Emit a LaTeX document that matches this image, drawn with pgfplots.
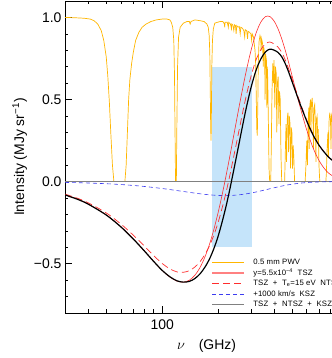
\documentclass[border=0pt]{standalone}
\usepackage{fontspec}
\setmainfont{Liberation Sans}
\newfontfamily\legfont{Liberation Sans}[LetterSpace=2]
\usepackage{pgfplots}
\pgfplotsset{compat=1.18}

\definecolor{pwv}{RGB}{255,182,0}
\definecolor{tszred}{RGB}{255,45,45}
\definecolor{kszblue}{RGB}{60,60,240}
\definecolor{band}{RGB}{197,228,250}

\begin{document}
\begin{tikzpicture}
\begin{axis}[
  name=ax, at={(0,0)}, anchor=south west,
  scale only axis, width=283bp, height=312bp,
  xmode=log, xmin=30, xmax=1000, ymin=-0.8, ymax=1.1,
  xtick={100,1000}, xticklabels={100,{}},
  minor xtick={40,50,60,70,80,90,200,300,400,500,600,700,800,900},
  ytick={-0.5,0,0.5,1}, yticklabels={−0.5,0.0,0.5,1.0},
  minor ytick={-0.7,-0.6,-0.4,-0.3,-0.2,-0.1,0.1,0.2,0.3,0.4,0.6,0.7,0.8,0.9},
  tick align=inside,
  major tick length=7bp, minor tick length=3.5bp,
  tick style={black, line width=0.6pt},
  axis line style={line width=0.8pt},
  ticklabel style={font=\fontsize{14}{14}\selectfont},
  xticklabel style={yshift=-3bp},
  label style={font=\fontsize{14}{14}\selectfont},
  xlabel style={yshift=-3bp},
  xlabel={$\nu$\quad (GHz)},
  ylabel={Intensity (MJy sr\textsuperscript{−1})},
  legend style={at={(0.516,0.176)}, anchor=north west, draw=none, fill=none,
    inner sep=0pt, font=\legfont\fontsize{7.8}{9}\selectfont, row sep=2bp,
    nodes={inner sep=0.5bp, text height=6bp, text depth=1.5bp}},
  legend cell align=left,
  legend image code/.code={\draw[#1] (0bp,0bp) -- (32bp,0bp); \path (40bp,0bp);},
]
% observing band
\addplot[fill=band, draw=none, forget plot] coordinates {(185,-0.4) (185,0.7) (305,0.7) (305,-0.4)} -- cycle;

% atmospheric transmission, 0.5 mm PWV
\addplot[pwv, line width=0.7pt, forget plot] coordinates {
(30,1.0) (34,0.998) (38,0.995) (41,0.99) (43,0.98) (45,0.96) (47,0.92) (48.5,0.86)
(50,0.76) (51,0.64) (52,0.48) (53,0.28) (54,0.10) (55,0.0) (63,0.0) (64,0.1)
(65,0.3) (66,0.5) (67,0.62) (68.5,0.72) (70,0.79) (72,0.86) (75,0.91) (78,0.94)
(82,0.96) (87,0.975) (93,0.985) (100,0.99) (106,0.99) (110,0.985) (112,0.97)
(114,0.94) (115.5,0.86) (116.5,0.65) (117.3,0.3) (118,0.0) (119.2,0.0) (120,0.35)
(121,0.7) (122.5,0.88) (125,0.94) (130,0.965) (136,0.975) (140,0.975) (141.5,0.96)
(143,0.975) (150,0.985) (160,0.98) (168,0.975) (174,0.96) (177,0.94) (179,0.89)
(180.5,0.78) (181.5,0.55) (182.5,0.32) (183.3,0.25) (184,0.4) (185,0.7) (186.5,0.86)
(188.5,0.93) (192,0.965) (198,0.97) (205,0.975) (212,0.975) (216,0.96) (217,0.94)
(218,0.97) (224,0.97) (227,0.94) (228,0.97) (233,0.96) (236,0.93) (237,0.96)
(240,0.955) (243,0.92) (245,0.955) (248,0.95) (250,0.9) (252,0.95) (256,0.94)
(260,0.945) (263,0.9) (265,0.94) (270,0.935) (275,0.92) (278,0.88) (280,0.925)
(285,0.92) (288,0.87) (290,0.915) (295,0.91) (300,0.9) (303,0.86) (305,0.9)
(310,0.88) (313,0.84) (316,0.8) (319,0.7) (321,0.5) (323,0.32) (325,0.28)
(327,0.45) (329,0.72) (332,0.85) (336,0.89) (339,0.87) (341,0.8) (343,0.87)
(347,0.84) (350,0.7) (352,0.82) (356,0.78) (358,0.5) (360,0.78) (364,0.74)
(366,0.45) (368,0.7) (370,0.62) (373,0.35) (376,0.08) (379,0.0) (384,0.0)
(387,0.25) (390,0.55) (394,0.72) (397,0.6) (400,0.74) (404,0.45) (407,0.7)
(411,0.66) (414,0.3) (417,0.6) (421,0.64) (425,0.35) (428,0.55) (432,0.5)
(436,0.15) (440,0.0) (456,0.0) (460,0.18) (464,0.35) (467,0.12) (471,0.38)
(475,0.42) (479,0.18) (483,0.4) (487,0.36) (491,0.08) (495,0.33) (499,0.3)
(503,0.08) (507,0.22) (511,0.15) (516,0.0) (588,0.0) (594,0.1) (600,0.25)
(605,0.1) (610,0.35) (615,0.45) (618,0.2) (622,0.45) (628,0.5) (632,0.3)
(636,0.48) (642,0.51) (648,0.4) (652,0.2) (656,0.45) (662,0.47) (668,0.35)
(672,0.12) (676,0.38) (682,0.4) (688,0.25) (692,0.32) (698,0.1) (705,0.0)
(760,0.0) (765,0.05) (772,0.2) (780,0.3) (785,0.15) (790,0.36) (798,0.42)
(805,0.38) (810,0.2) (815,0.4) (822,0.42) (830,0.35) (840,0.1) (850,0.3)
(870,0.05) (900,0.0) (960,0.0) (1000,0.05)
};

% zero line
\addplot[gray, line width=0.6pt, forget plot] coordinates {(30,0) (1000,0)};

% kinetic SZ, +1000 km/s
\addplot[kszblue, line width=0.6pt, dash pattern=on 4bp off 3bp, smooth, forget plot] coordinates {
(30,-0.0048) (35,-0.0064) (40,-0.0083) (50,-0.0127) (60,-0.0177) (70,-0.0233)
(80,-0.0294) (90,-0.0356) (100,-0.0419) (110,-0.0482) (120,-0.0543) (130,-0.0600)
(140,-0.0653) (150,-0.0700) (160,-0.0741) (170,-0.0776) (180,-0.0804) (190,-0.0825)
(200,-0.0840) (210,-0.0848) (220,-0.0849) (230,-0.0845) (240,-0.0835) (250,-0.0820)
(260,-0.0802) (280,-0.0753) (300,-0.0695) (320,-0.0631) (340,-0.0564) (360,-0.0498)
(380,-0.0434) (400,-0.0374) (420,-0.0320) (440,-0.0271) (460,-0.0228) (480,-0.0190)
(500,-0.0157) (550,-0.0095) (600,-0.0056) (650,-0.0032) (700,-0.0018) (750,-0.0010)
(800,-0.0005) (900,-0.0001) (1000,0.0)
};

% thermal SZ, y = 5.5e-4
\addplot[tszred, line width=0.6pt, smooth, forget plot] coordinates {
(30,-0.0793) (35,-0.1060) (40,-0.1358) (50,-0.2025) (60,-0.2752) (70,-0.3496)
(80,-0.4213) (90,-0.4862) (100,-0.5405) (110,-0.5811) (120,-0.6055) (130,-0.6121)
(140,-0.6003) (150,-0.5700) (160,-0.5220) (170,-0.4578) (180,-0.3793) (190,-0.2888)
(200,-0.1889) (210,-0.0824) (220,0.0283) (230,0.1403) (240,0.2513) (250,0.3590)
(260,0.4618) (280,0.6458) (300,0.7944) (320,0.9040) (340,0.9728) (360,1.0053)
(380,1.0053) (400,0.9781) (420,0.9311) (440,0.8695) (460,0.7984) (480,0.7223)
(500,0.6450) (550,0.4630) (600,0.3138) (650,0.2032) (700,0.1267) (750,0.0765)
(800,0.0450) (900,0.0145) (1000,0.0044)
};

% TSZ + NTSZ
\addplot[tszred, line width=0.7pt, dash pattern=on 7bp off 4bp, smooth, forget plot] coordinates {
(30,-0.0763) (35,-0.1010) (40,-0.1288) (50,-0.1905) (60,-0.2582) (70,-0.3266)
(80,-0.3913) (90,-0.4502) (100,-0.4985) (110,-0.5311) (120,-0.5495) (130,-0.5521)
(140,-0.5423) (150,-0.5200) (160,-0.4870) (170,-0.4428) (180,-0.3893) (190,-0.3238)
(200,-0.2489) (210,-0.1624) (220,-0.0717) (230,0.0253) (240,0.1263) (250,0.2240)
(260,0.3198) (280,0.4958) (300,0.6374) (320,0.7410) (340,0.8048) (360,0.8403)
(380,0.8503) (400,0.8381) (420,0.8191) (440,0.7875) (460,0.7404) (480,0.6843)
(500,0.6250) (550,0.4880) (600,0.3738) (650,0.2852) (700,0.2217) (750,0.1765)
(800,0.1420) (900,0.0995) (1000,0.0794)
};

% TSZ + NTSZ + KSZ
\addplot[black, line width=1.2pt, smooth, forget plot] coordinates {
(30,-0.0811) (35,-0.1074) (40,-0.1371) (50,-0.2032) (60,-0.2759) (70,-0.3499)
(80,-0.4207) (90,-0.4858) (100,-0.5404) (110,-0.5793) (120,-0.6038) (130,-0.6121)
(140,-0.6076) (150,-0.5900) (160,-0.5611) (170,-0.5204) (180,-0.4697) (190,-0.4063)
(200,-0.3329) (210,-0.2472) (220,-0.1566) (230,-0.0592) (240,0.0428) (250,0.1420)
(260,0.2396) (280,0.4205) (300,0.5679) (320,0.6779) (340,0.7484) (360,0.7905)
(380,0.8069) (400,0.8007) (420,0.7871) (440,0.7604) (460,0.7176) (480,0.6653)
(500,0.6093) (550,0.4785) (600,0.3682) (650,0.2820) (700,0.2199) (750,0.1755)
(800,0.1415) (900,0.0994) (1000,0.0793)
};

\addlegendimage{pwv, line width=1pt}
\addlegendentry{0.5 mm PWV}
\addlegendimage{tszred!60, line width=1.6pt}
\addlegendentry{y=5.5x10\textsuperscript{−4}\ \ TSZ}
\addlegendimage{tszred, line width=1pt, dash pattern=on 7bp off 4bp}
\addlegendentry{TSZ\ \ +\ \ T\textsubscript{e}=15\ eV\ \ NTSZ}
\addlegendimage{kszblue, line width=0.8pt, dash pattern=on 4bp off 3bp}
\addlegendentry{+1000\ km/s\ \ KSZ}
\addlegendimage{gray, line width=1.6pt}
\addlegendentry{TSZ\ \ +\ \ NTSZ\ \ +\ \ KSZ}
\end{axis}
\pgfresetboundingbox
\path[use as bounding box] ([xshift=-65bp,yshift=-45bp]ax.south west) rectangle ([xshift=267bp,yshift=1bp]ax.north west);
\end{tikzpicture}
\end{document}
